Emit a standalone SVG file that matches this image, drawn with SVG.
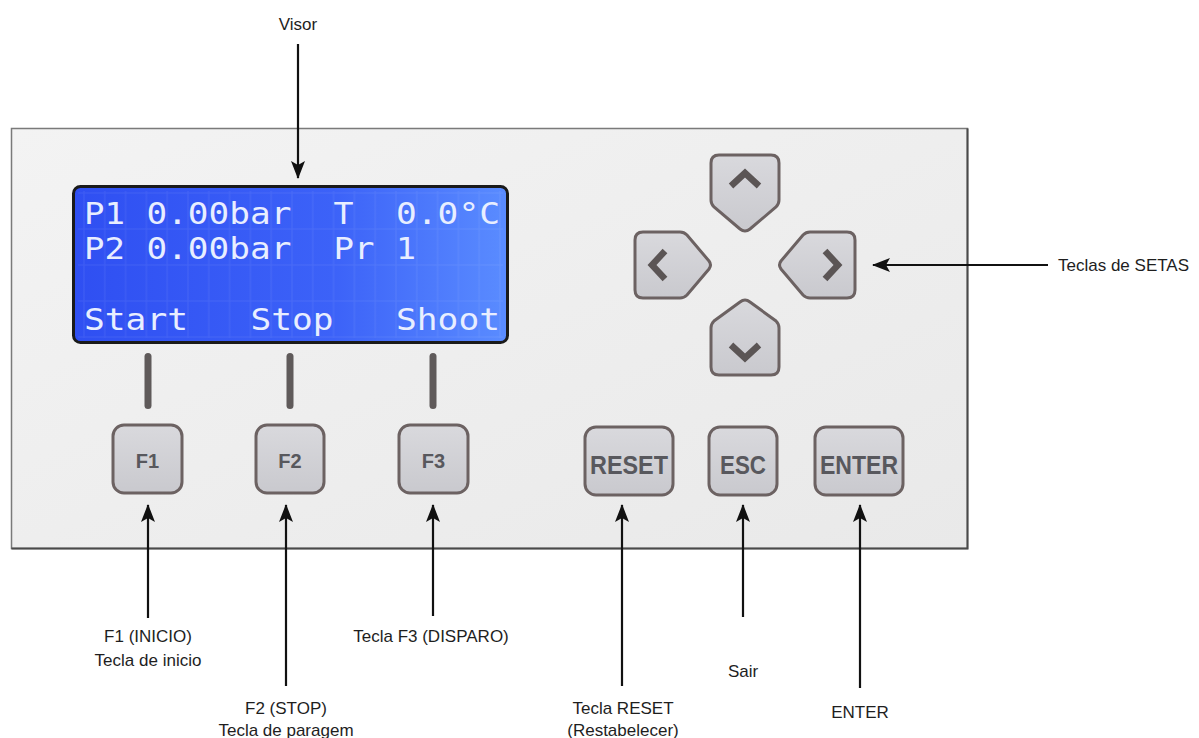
<svg xmlns="http://www.w3.org/2000/svg" width="1199" height="738" viewBox="0 0 1199 738">
<defs>
<style>
.lbl{font-family:"Liberation Sans",Arial,sans-serif;font-size:17px;fill:#1e1e1e;text-anchor:middle}
.lcd{font-family:"DejaVu Sans Mono","Liberation Mono",monospace;font-size:30px;fill:#e8eeff}
.key{fill:url(#keyg);stroke:#6c6262;stroke-width:3}
.kt{font-family:"Liberation Sans",Arial,sans-serif;font-weight:bold;fill:#58585d;text-anchor:middle}
.bar{fill:#5f5a5a}
.chev{fill:none;stroke:#5b5555;stroke-width:6.5;stroke-linejoin:miter}
.con{stroke:#111;stroke-width:2.2;fill:none;marker-end:url(#arr)}
</style>
<marker id="arr" viewBox="0 0 18 14" refX="17" refY="7" markerWidth="18" markerHeight="14" markerUnits="userSpaceOnUse" orient="auto">
<path d="M0,0 L18,7 L0,14 L4,7 Z" fill="#111"/>
</marker>
<linearGradient id="panelg" x1="0" y1="0" x2="1" y2="1">
<stop offset="0" stop-color="#f3f3f3"/>
<stop offset="1" stop-color="#e9e9e9"/>
</linearGradient>
<linearGradient id="lcdg" x1="0" y1="0" x2="1" y2="0">
<stop offset="0" stop-color="#2f4ff2"/>
<stop offset="0.6" stop-color="#3c62f8"/>
<stop offset="1" stop-color="#5a8cff"/>
</linearGradient>
<linearGradient id="keyg" x1="0" y1="0" x2="0" y2="1">
<stop offset="0" stop-color="#d9d9dd"/>
<stop offset="1" stop-color="#c9c9ce"/>
</linearGradient>
<pattern id="grid" x="84" y="193" width="20.8" height="36" patternUnits="userSpaceOnUse">
<rect x="0" y="0" width="20.8" height="36" fill="none" stroke="#ffffff" stroke-opacity="0.08" stroke-width="1"/>
</pattern>
</defs>

<g id="panel">
<rect x="11.5" y="128.5" width="956" height="420" fill="url(#panelg)" stroke="#7a7a7a" stroke-width="1.5"/>
<polyline points="967.5,128.5 967.5,548.5 11.5,548.5" fill="none" stroke="#4a4a4a" stroke-width="2"/>
</g>

<g id="visor">
<rect x="73.5" y="186.5" width="434" height="156" rx="7" fill="url(#lcdg)" stroke="#1a1a1a" stroke-width="3"/>
<rect x="78" y="191" width="425" height="147" fill="url(#grid)"/>
<text class="lcd" x="84" y="224" textLength="41" lengthAdjust="spacingAndGlyphs">P1</text>
<text class="lcd" x="146.4" y="224" textLength="145" lengthAdjust="spacingAndGlyphs">0.00bar</text>
<text class="lcd" x="333.6" y="224" textLength="20" lengthAdjust="spacingAndGlyphs">T</text>
<text class="lcd" x="396" y="224" textLength="104" lengthAdjust="spacingAndGlyphs">0.0°C</text>
<text class="lcd" x="84" y="259" textLength="41" lengthAdjust="spacingAndGlyphs">P2</text>
<text class="lcd" x="146.4" y="259" textLength="145" lengthAdjust="spacingAndGlyphs">0.00bar</text>
<text class="lcd" x="333.6" y="259" textLength="41" lengthAdjust="spacingAndGlyphs">Pr</text>
<text class="lcd" x="396" y="259" textLength="20" lengthAdjust="spacingAndGlyphs">1</text>
<text class="lcd" x="84" y="330" textLength="104" lengthAdjust="spacingAndGlyphs">Start</text>
<text class="lcd" x="250.4" y="330" textLength="83" lengthAdjust="spacingAndGlyphs">Stop</text>
<text class="lcd" x="396" y="330" textLength="104" lengthAdjust="spacingAndGlyphs">Shoot</text>
</g>

<g id="indicators">
<rect class="bar" x="144.5" y="353" width="7" height="56" rx="3.5"/>
<rect class="bar" x="286.5" y="353" width="7" height="56" rx="3.5"/>
<rect class="bar" x="429.5" y="353" width="7" height="56" rx="3.5"/>
</g>

<g id="key-f1">
<rect class="key" x="113" y="425" width="69" height="68" rx="11"/>
<text class="kt" x="147.5" y="468" font-size="20">F1</text>
</g>
<g id="key-f2">
<rect class="key" x="256" y="425" width="68" height="68" rx="11"/>
<text class="kt" x="290" y="468" font-size="20">F2</text>
</g>
<g id="key-f3">
<rect class="key" x="399" y="425" width="69" height="68" rx="11"/>
<text class="kt" x="433.5" y="468" font-size="20">F3</text>
</g>
<g id="key-reset">
<rect class="key" x="585" y="427" width="88" height="68" rx="11"/>
<text class="kt" x="629" y="474" font-size="25" textLength="78" lengthAdjust="spacingAndGlyphs">RESET</text>
</g>
<g id="key-esc">
<rect class="key" x="709" y="427" width="68" height="68" rx="11"/>
<text class="kt" x="743" y="474" font-size="25" textLength="46" lengthAdjust="spacingAndGlyphs">ESC</text>
</g>
<g id="key-enter">
<rect class="key" x="815" y="427" width="88" height="68" rx="11"/>
<text class="kt" x="859" y="474" font-size="25" textLength="78" lengthAdjust="spacingAndGlyphs">ENTER</text>
</g>

<g id="key-up">
<path class="key" d="M719,155 L771,155 Q779,155 779,163 L779,200 Q779,204 776,207 L750,229 Q745,233 740,229 L714,207 Q711,204 711,200 L711,163 Q711,155 719,155 Z"/>
<polyline class="chev" points="731,186 745,173 759,186"/>
</g>
<g id="key-down">
<path class="key" d="M740,302 Q745,298 750,302 L776,321 Q779,324 779,328 L779,367 Q779,375 771,375 L719,375 Q711,375 711,367 L711,328 Q711,324 714,321 Z"/>
<polyline class="chev" points="731,345 745,358 759,345"/>
</g>
<g id="key-left">
<path class="key" d="M709,261 L687,235 Q684,232 680,232 L643,232 Q635,232 635,240 L635,290 Q635,298 643,298 L680,298 Q684,298 687,295 L709,269 Q712,265 709,261 Z"/>
<polyline class="chev" points="665,251 652,265 665,279"/>
</g>
<g id="key-right">
<path class="key" d="M781,261 L803,235 Q806,232 810,232 L847,232 Q855,232 855,240 L855,290 Q855,298 847,298 L810,298 Q806,298 803,295 L781,269 Q778,265 781,261 Z"/>
<polyline class="chev" points="825,251 838,265 825,279"/>
</g>

<g id="connectors">
<line class="con" x1="298" y1="44" x2="298" y2="178"/>
<line class="con" x1="148" y1="618" x2="148" y2="505"/>
<line class="con" x1="286" y1="686" x2="286" y2="505"/>
<line class="con" x1="433" y1="616" x2="433" y2="505"/>
<line class="con" x1="622" y1="686" x2="622" y2="505"/>
<line class="con" x1="743" y1="617" x2="743" y2="505"/>
<line class="con" x1="860" y1="688" x2="860" y2="505"/>
<line class="con" x1="1048" y1="265" x2="873" y2="265"/>
</g>

<g id="labels">
<text class="lbl" x="298" y="30">Visor</text>
<text class="lbl" x="148" y="642">F1 (INICIO)</text>
<text class="lbl" x="148" y="666">Tecla de inicio</text>
<text class="lbl" x="286" y="714">F2 (STOP)</text>
<text class="lbl" x="286" y="736">Tecla de paragem</text>
<text class="lbl" x="431" y="642">Tecla F3 (DISPARO)</text>
<text class="lbl" x="623" y="714">Tecla RESET</text>
<text class="lbl" x="623" y="736">(Restabelecer)</text>
<text class="lbl" x="743" y="677">Sair</text>
<text class="lbl" x="860" y="718">ENTER</text>
<text class="lbl" x="1058" y="271" style="text-anchor:start">Teclas de SETAS</text>
</g>
</svg>
